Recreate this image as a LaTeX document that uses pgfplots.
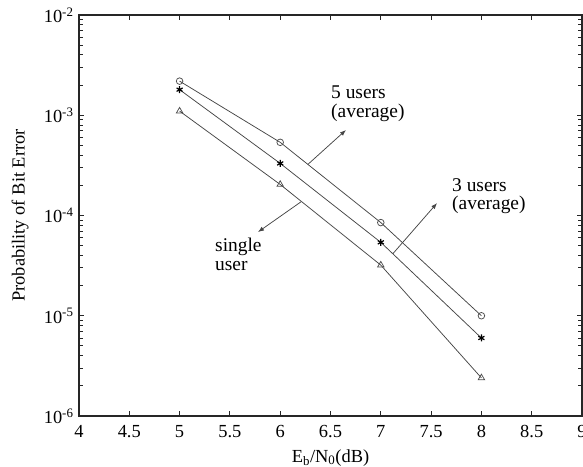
\documentclass[border=0pt]{standalone}
\usepackage{fontspec}
\setmainfont{Liberation Serif}
\usepackage{pgfplots}
\pgfplotsset{compat=1.18}
\usetikzlibrary{arrows.meta}
\begin{document}
\begin{tikzpicture}
\begin{axis}[
  scale only axis, width=503bp, height=401bp,
  xmin=4, xmax=9, ymin=1e-6, ymax=1e-2, ymode=log,
  xtick={4,4.5,5,5.5,6,6.5,7,7.5,8,8.5,9},
  ytick={1e-6,1e-5,1e-4,1e-3,1e-2},
  yticklabels={10\textsuperscript{-6},10\textsuperscript{-5},10\textsuperscript{-4},10\textsuperscript{-3},10\textsuperscript{-2}},
  minor ytick={2e-6,3e-6,4e-6,5e-6,6e-6,7e-6,8e-6,9e-6,
               2e-5,3e-5,4e-5,5e-5,6e-5,7e-5,8e-5,9e-5,
               2e-4,3e-4,4e-4,5e-4,6e-4,7e-4,8e-4,9e-4,
               2e-3,3e-3,4e-3,5e-3,6e-3,7e-3,8e-3,9e-3},
  /pgf/number format/assume math mode=true,
  tick label style={font=\fontsize{18.5}{20}\selectfont},
  xticklabel style={yshift=-6bp},
  yticklabel style={xshift=-2bp},
  label style={font=\fontsize{18.5}{20}\selectfont},
  xlabel={E\textsubscript{b}/N\textsubscript{0}(dB)},
  ylabel={Probability of Bit Error},
  xlabel style={at={(axis description cs:0.5,-0.104)}, anchor=center},
  ylabel style={at={(axis description cs:-0.117,0.5)}, anchor=center},
  axis line style={line width=1.6bp, black!85},
  tick style={black!85, line width=0.9bp},
  major tick length=5bp, minor tick length=4bp,
  every axis plot/.append style={gray!55!black, line width=0.75bp},
]
\addplot[mark=o, mark size=3.3bp, mark options={solid, fill=white, gray!60!black}]
  coordinates {(5,2.19e-3) (6,5.37e-4) (7,8.5e-5) (8,1.0e-5)};
\addplot[mark=asterisk, mark size=3.5bp, mark options={solid, black, line width=1.2bp}]
  coordinates {(5,1.80e-3) (6,3.31e-4) (7,5.4e-5) (8,6.0e-6)};
\addplot[mark=triangle, mark size=3.7bp, mark options={solid, fill=white, gray!60!black}]
  coordinates {(5,1.10e-3) (6,2.04e-4) (7,3.2e-5) (8,2.4e-6)};

\draw[gray!55!black, line width=0.75bp, -{Latex[length=6bp,width=4.5bp]}]
  (axis cs:6.276,3.24e-4) -- (axis cs:6.654,7.13e-4);
\draw[gray!55!black, line width=0.75bp, -{Latex[length=6bp,width=4.5bp]}]
  (axis cs:7.121,4.17e-5) -- (axis cs:7.559,1.33e-4);
\draw[gray!55!black, line width=0.75bp, -{Latex[length=6bp,width=4.5bp]}]
  (axis cs:6.207,1.37e-4) -- (axis cs:5.779,6.84e-5);

\node[anchor=west, align=left, inner sep=0pt, font=\fontsize{19.5}{19}\selectfont]
  at (axis cs:6.505,1.29e-3) {5 users\\(average)};
\node[anchor=west, align=left, inner sep=0pt, font=\fontsize{19.5}{19}\selectfont]
  at (axis cs:7.708,1.56e-4) {3 users\\(average)};
\node[anchor=west, align=left, inner sep=0pt, font=\fontsize{19.5}{19}\selectfont]
  at (axis cs:5.352,4.13e-5) {single\\user};
\end{axis}
\pgfresetboundingbox
\path ([shift={(-79bp,-51bp)}]current axis.south west) rectangle ([shift={(1bp,15bp)}]current axis.north east);
\end{tikzpicture}
\end{document}
